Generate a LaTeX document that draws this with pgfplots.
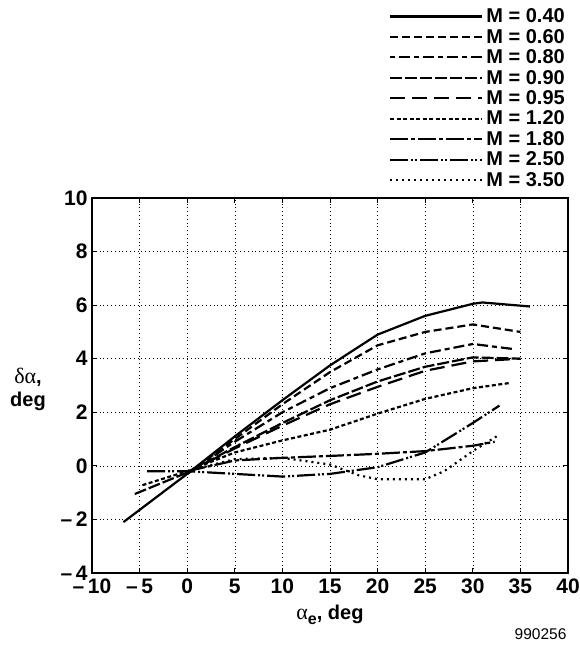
\documentclass[border=0pt]{standalone}
\usepackage{fontspec}
\setmainfont{Liberation Sans}
\newfontfamily\greekfont{Liberation Serif}
\usepackage{pgfplots}
\pgfplotsset{compat=1.18}
\begin{document}
\begin{tikzpicture}
\useasboundingbox (0,0) rectangle (580pt,645pt);
\begin{axis}[
  at={(92pt,72pt)}, anchor=south west, scale only axis,
  width=476pt, height=375pt,
  clip mode=individual,
  xmin=-10, xmax=40, ymin=-4, ymax=10,
  xtick={-10,-5,...,40}, ytick={-4,-2,...,10},
  xticklabels={\textendash\,10,\textendash\,5,0,5,10,15,20,25,30,35,40},
  yticklabels={\textendash\,4,\textendash\,2,0,2,4,6,8,10},
  tick label style={font=\fontsize{21}{22}\selectfont\bfseries},
  xticklabel style={text height=15pt, text depth=1pt, yshift=-2pt},
  yticklabel style={xshift=-1pt},
  grid=major,
  major grid style={black, line width=0.5pt, dash pattern=on 0.8pt off 3pt},
  axis line style={line width=1.8pt},
  tick align=inside, major tick length=5pt,
  tick style={black, line width=1pt},
  every axis plot post/.append style={black, line width=2.2pt},
  legend style={at={(1.0,1.508)}, anchor=north east, draw=none, fill=none,
    font=\fontsize{20}{21}\selectfont\bfseries, row sep=3pt, inner sep=0pt,
    nodes={inner xsep=3pt, inner ysep=1pt}},
  legend cell align=left,
  legend image code/.code={\draw[#1] (0pt,0pt) -- (92pt,0pt);},
]
\addplot[solid] coordinates {(-6.7,-2.1) (0,-0.3) (5,1.1) (10,2.45) (15,3.75) (20,4.9) (25,5.6) (30,6.05) (31,6.1) (36,5.95)};
\addlegendentry{M = 0.40}
\addplot[dash pattern=on 8pt off 4pt] coordinates {(0,-0.3) (5,1.0) (10,2.3) (15,3.5) (20,4.5) (25,5.0) (30,5.28) (35,5.0)};
\addlegendentry{M = 0.60}
\addplot[dash pattern=on 5pt off 4pt on 11pt off 4pt] coordinates {(0,-0.3) (5,0.9) (10,2.0) (15,2.9) (20,3.6) (25,4.2) (30,4.55) (34.5,4.35)};
\addlegendentry{M = 0.80}
\addplot[dash pattern=on 12pt off 3pt] coordinates {(-5.5,-1.05) (0,-0.25) (5,0.7) (10,1.6) (15,2.45) (20,3.15) (25,3.7) (30,4.05) (35,4.0)};
\addlegendentry{M = 0.90}
\addplot[dash pattern=on 15pt off 7pt] coordinates {(0,-0.25) (5,0.65) (10,1.5) (15,2.3) (20,2.95) (25,3.55) (30,3.9) (35,4.0)};
\addlegendentry{M = 0.95}
\addplot[dash pattern=on 4pt off 2.5pt] coordinates {(-4.7,-0.72) (0,-0.2) (5,0.5) (10,0.95) (15,1.35) (20,1.95) (25,2.5) (30,2.9) (34,3.1)};
\addlegendentry{M = 1.20}
\addplot[dash pattern=on 18pt off 3pt on 4pt off 3pt] coordinates {(0,-0.2) (5,0.2) (10,0.3) (15,0.37) (20,0.45) (25,0.55) (30,0.75) (32.3,0.9)};
\addlegendentry{M = 1.80}
\addplot[dash pattern=on 18pt off 3pt on 2pt off 2pt on 2pt off 3pt] coordinates {(-4.2,-0.2) (0,-0.2) (5,-0.3) (10,-0.4) (15,-0.3) (20,-0.05) (25,0.5) (30,1.6) (32.8,2.25)};
\addlegendentry{M = 2.50}
\addplot[dash pattern=on 2pt off 4pt] coordinates {(0,-0.2) (5,0.25) (10,0.3) (15,0.05) (18,-0.35) (20,-0.5) (25,-0.5) (27,-0.2) (30,0.55) (32.5,1.1)};
\addlegendentry{M = 3.50}
\node[align=center, font=\fontsize{20}{23}\selectfont\bfseries] at (rel axis cs:0,0.49) [xshift=-64pt] {{\greekfont\mdseries\fontsize{22}{23}\selectfont δα},\\deg};
\node[font=\fontsize{20}{22}\selectfont\bfseries] at (rel axis cs:0.5,0) [yshift=-42pt] {{\greekfont\mdseries\fontsize{22}{23}\selectfont α}\raisebox{-5pt}{\fontsize{16}{17}\selectfont\bfseries e}, deg};
\node[font=\fontsize{15.5}{17}\selectfont, anchor=east] at (rel axis cs:1,0) [yshift=-61pt, xshift=2pt] {990256};
\end{axis}
\end{tikzpicture}
\end{document}
